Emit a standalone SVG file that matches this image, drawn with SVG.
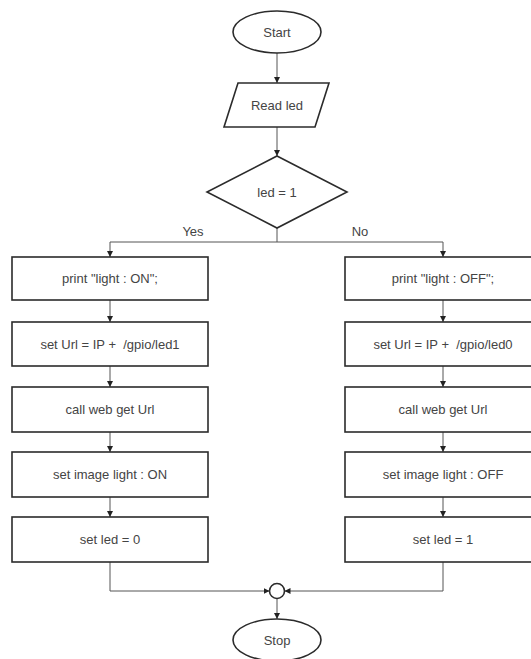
<svg xmlns="http://www.w3.org/2000/svg" width="531" height="659" viewBox="0 0 531 659">
<style>
.shape{fill:#fff;stroke:#2b2b2b;stroke-width:1.6}
.conn{fill:none;stroke:#555;stroke-width:1}
.t{font-family:"Liberation Sans",Arial,sans-serif;font-size:13px;fill:#444;text-anchor:middle}
</style>
<defs>
<marker id="arr" markerUnits="userSpaceOnUse" markerWidth="7" markerHeight="7" refX="6" refY="3" orient="auto">
<path d="M0,0 L6,3 L0,6 z" fill="#222"/>
</marker>
</defs>
<rect width="531" height="659" fill="#fff"/>
<g id="connectors">
<path class="conn" d="M277,53 V83" marker-end="url(#arr)"/>
<path class="conn" d="M277,127 V156" marker-end="url(#arr)"/>
<path class="conn" d="M277,228 V242 H110 V257" marker-end="url(#arr)"/>
<path class="conn" d="M277,242 H443 V257" marker-end="url(#arr)"/>
<path class="conn" d="M110,300 V322" marker-end="url(#arr)"/>
<path class="conn" d="M110,366 V387" marker-end="url(#arr)"/>
<path class="conn" d="M110,432 V452" marker-end="url(#arr)"/>
<path class="conn" d="M110,497 V517" marker-end="url(#arr)"/>
<path class="conn" d="M443,300 V322" marker-end="url(#arr)"/>
<path class="conn" d="M443,366 V387" marker-end="url(#arr)"/>
<path class="conn" d="M443,432 V452" marker-end="url(#arr)"/>
<path class="conn" d="M443,497 V517" marker-end="url(#arr)"/>
<path class="conn" d="M110,562 V591 H269.5" marker-end="url(#arr)"/>
<path class="conn" d="M443,562 V591 H284.5" marker-end="url(#arr)"/>
<path class="conn" d="M277,598.5 V619" marker-end="url(#arr)"/>
<text class="t" x="193" y="236">Yes</text>
<text class="t" x="360" y="236">No</text>
</g>
<g id="start"><ellipse class="shape" cx="277" cy="32" rx="44" ry="21"/><text class="t" x="277" y="36.5">Start</text></g>
<g id="read"><polygon class="shape" points="238,83 329,83 315,127 224,127"/><text class="t" x="277" y="109.5">Read led</text></g>
<g id="decision"><polygon class="shape" points="277,156 347,192 277,228 207,192"/><text class="t" x="277" y="196.5">led = 1</text></g>
<g id="l1"><rect class="shape" x="12" y="257" width="196" height="43"/><text class="t" x="110" y="283">print "light : ON";</text></g>
<g id="l2"><rect class="shape" x="12" y="322" width="196" height="44"/><text class="t" x="110" y="348.5">set Url = IP + &#160;/gpio/led1</text></g>
<g id="l3"><rect class="shape" x="12" y="387" width="196" height="45"/><text class="t" x="110" y="414">call web get Url</text></g>
<g id="l4"><rect class="shape" x="12" y="452" width="196" height="45"/><text class="t" x="110" y="479">set image light : ON</text></g>
<g id="l5"><rect class="shape" x="12" y="517" width="196" height="45"/><text class="t" x="110" y="544">set led = 0</text></g>
<g id="r1"><rect class="shape" x="345" y="257" width="196" height="43"/><text class="t" x="443" y="283">print "light : OFF";</text></g>
<g id="r2"><rect class="shape" x="345" y="322" width="196" height="44"/><text class="t" x="443" y="348.5">set Url = IP + &#160;/gpio/led0</text></g>
<g id="r3"><rect class="shape" x="345" y="387" width="196" height="45"/><text class="t" x="443" y="414">call web get Url</text></g>
<g id="r4"><rect class="shape" x="345" y="452" width="196" height="45"/><text class="t" x="443" y="479">set image light : OFF</text></g>
<g id="r5"><rect class="shape" x="345" y="517" width="196" height="45"/><text class="t" x="443" y="544">set led = 1</text></g>
<g id="merge"><circle class="shape" cx="277" cy="591" r="7.5"/></g>
<g id="stop"><ellipse class="shape" cx="277" cy="640" rx="44" ry="21"/><text class="t" x="277" y="644.5">Stop</text></g>
</svg>
